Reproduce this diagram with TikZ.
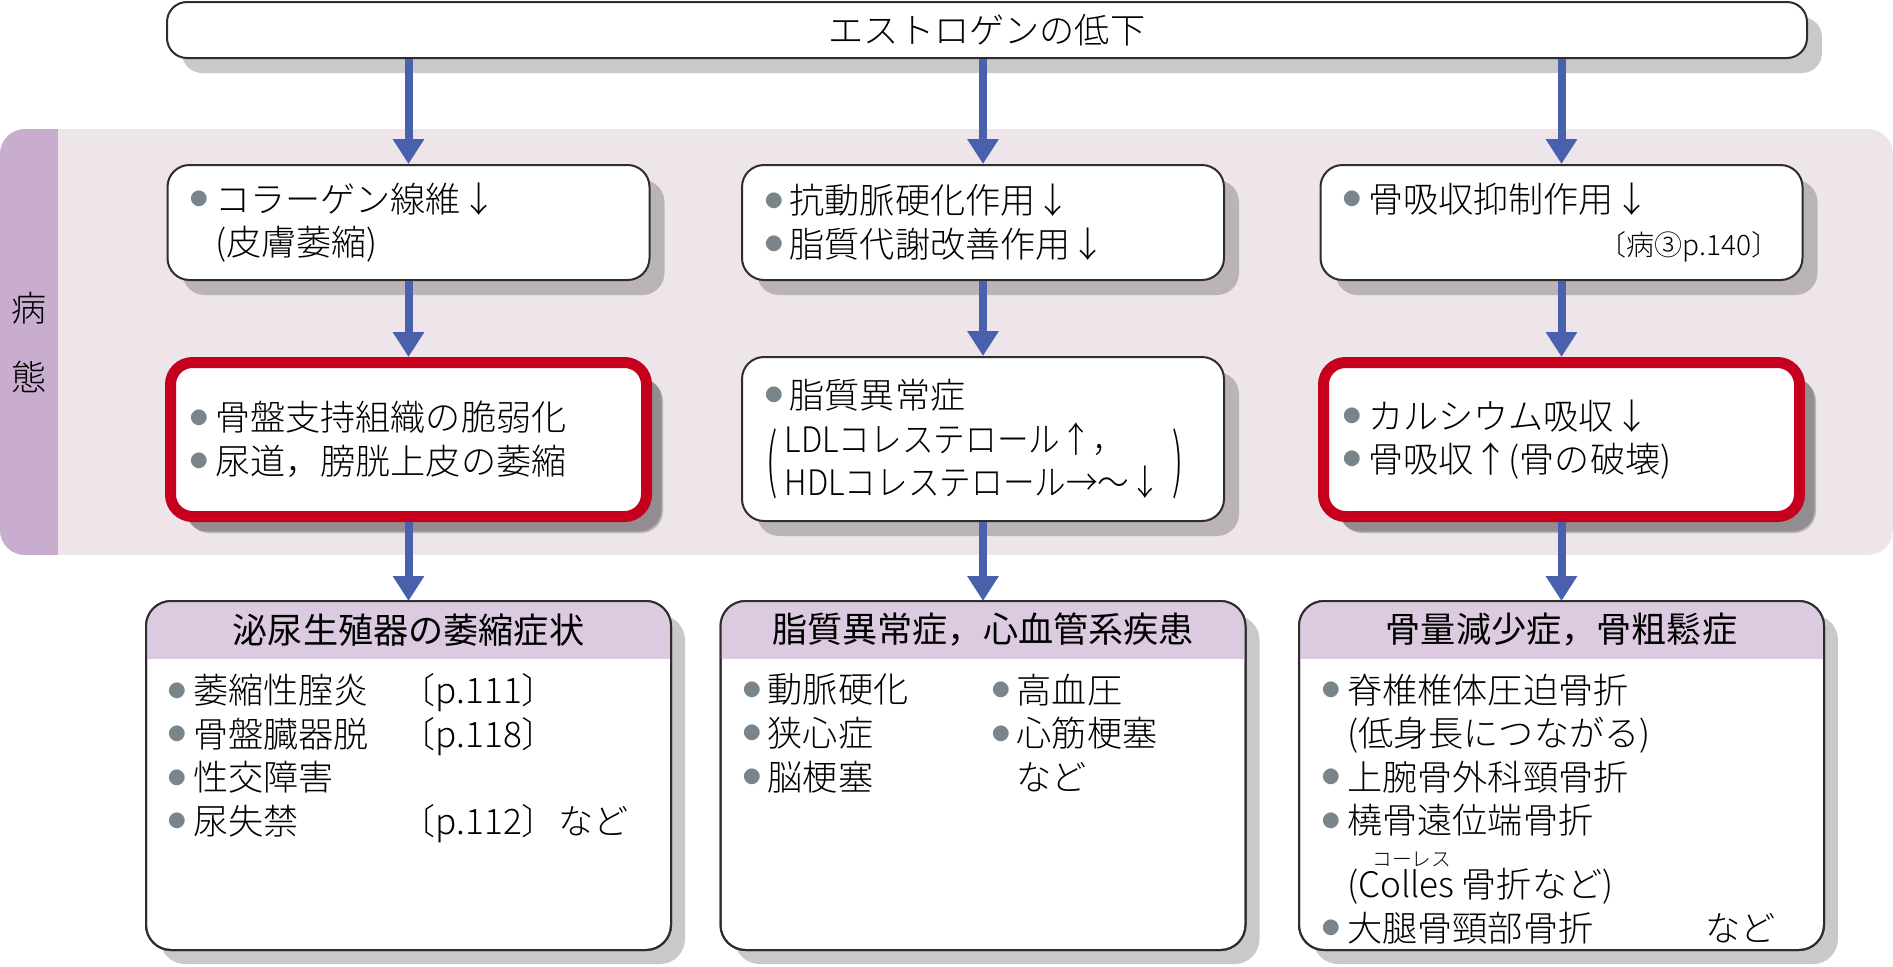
\documentclass[tikz,border=0pt]{standalone}
\usepackage{fontspec}
\setmainfont{Noto Sans CJK JP}[UprightFont = * Light]
\newfontfamily\headfont{Noto Sans CJK JP}
\usetikzlibrary{arrows.meta,shadows}
\definecolor{bandpink}{RGB}{237,229,233}
\definecolor{stripmauve}{RGB}{201,173,206}
\definecolor{arrowblue}{RGB}{73,97,172}
\definecolor{alertred}{RGB}{198,0,28}
\definecolor{headmauve}{RGB}{220,203,224}
\definecolor{bulgray}{RGB}{122,133,139}
\definecolor{boxline}{RGB}{45,45,45}
\newcommand\bul{\makebox[0.7em][l]{\color{bulgray}\raisebox{0.19em}{\scalebox{0.5}{●}}}}
\newcommand\nobul{\hspace*{0.7em}}
\tikzset{
    > = {Triangle[width=0.3cm, length=0.25cm]},
    every node/.style = {font=\fontsize{10pt}{12.4pt}\selectfont, text=black},
    flow/.style = {->, draw=arrowblue, line width=0.08cm},
    boxshadow/.style = {general shadow={fill=black, opacity=0.21, shadow xshift=#1, shadow yshift=-#1}},
    topbox/.style = {draw=boxline, line width=0.02cm, fill=white, rounded corners=0.2cm,
        minimum width=16.4cm, minimum height=0.56cm, boxshadow=0.15cm},
    box/.style = {draw=boxline, line width=0.02cm, fill=white, rounded corners=0.22cm,
        minimum width=4.82cm, minimum height=1.15cm, text width=4.36cm,
        inner xsep=0pt, align=left, boxshadow=0.15cm},
    alertbox/.style = {box, draw=alertred, line width=0.11cm,
        minimum width=4.76cm, minimum height=1.54cm, boxshadow=0.165cm},
    panel/.style = {draw=boxline, line width=0.02cm, fill=white, rounded corners=0.25cm,
        minimum width=5.25cm, minimum height=3.49cm, outer sep=0pt, boxshadow=0.14cm},
    headtext/.style = {font=\fontsize{10pt}{12.4pt}\headfont},
    listtext/.style = {anchor=north west, inner sep=0pt, align=left}
}

\begin{document}
\begin{tikzpicture}[x=1cm, y=-1cm]
    \useasboundingbox (0,0) rectangle (18.93,9.66);

    % band behind the upper rows
    \begin{scope}
        \clip[rounded corners=0.25cm] (0,1.29) rectangle (18.93,5.55);
        \fill[bandpink] (0,1.29) rectangle (18.93,5.55);
        \fill[stripmauve] (0,1.29) rectangle (0.58,5.55);
    \end{scope}
    \node[align=center, font=\fontsize{10pt}{19.6pt}\selectfont] (byotai) at (0.29, 3.425) {病\\態};

    \node[topbox] (top) at (9.87, 0.30) {エストロゲンの低下};

    \node[box] (r1a) at (4.085, 2.225) {\bul コラーゲン線維↓\\ \nobul (皮膚萎縮)};
    \node[box] (r1b) at (9.83, 2.225) {\bul 抗動脈硬化作用↓\\ \bul 脂質代謝改善作用↓};
    \node[box] (r1c) at (15.615, 2.225) {\bul 骨吸収抑制作用↓\\
        \hfill{\fontsize{8pt}{10pt}\selectfont 〔病③p.140〕}};

    \node[alertbox] (r2a) at (4.085, 4.395) {\bul 骨盤支持組織の脆弱化\\ \bul 尿道，膀胱上皮の萎縮};
    \node[box, minimum height=1.64cm] (r2b) at (9.83, 4.39) {\bul 脂質異常症\\
        \hspace*{0.56em}\scalebox{0.9}[1]{LDLコレステロール↑，}\\
        \hspace*{0.56em}\scalebox{0.9}[1]{HDLコレステロール→〜↓}};
    \node[inner sep=0pt] (lpar) at (7.72, 4.64) {\scalebox{1}[2]{(}};
    \node[inner sep=0pt] (rpar) at (11.78, 4.64) {\scalebox{1}[2]{)}};
    \node[alertbox] (r2c) at (15.615, 4.395) {\bul カルシウム吸収↓\\ \bul 骨吸収↑(骨の破壊)};

    % lower panels
    \node[panel] (r3a) at (4.085, 7.755) {};
    \node[panel] (r3b) at (9.83, 7.755) {};
    \node[panel] (r3c) at (15.615, 7.755) {};

    \begin{scope}
        \clip[rounded corners=0.25cm] (r3a.north west) rectangle (r3a.south east);
        \fill[headmauve] (r3a.north west) rectangle ([yshift=-0.58cm]r3a.north east);
    \end{scope}
    \begin{scope}
        \clip[rounded corners=0.25cm] (r3b.north west) rectangle (r3b.south east);
        \fill[headmauve] (r3b.north west) rectangle ([yshift=-0.58cm]r3b.north east);
    \end{scope}
    \begin{scope}
        \clip[rounded corners=0.25cm] (r3c.north west) rectangle (r3c.south east);
        \fill[headmauve] (r3c.north west) rectangle ([yshift=-0.58cm]r3c.north east);
    \end{scope}
    \draw[boxline, line width=0.02cm, rounded corners=0.25cm] (r3a.north west) rectangle (r3a.south east);
    \draw[boxline, line width=0.02cm, rounded corners=0.25cm] (r3b.north west) rectangle (r3b.south east);
    \draw[boxline, line width=0.02cm, rounded corners=0.25cm] (r3c.north west) rectangle (r3c.south east);

    \node[headtext] (h3a) at ([yshift=-0.29cm]r3a.north) {泌尿生殖器の萎縮症状};
    \node[headtext] (h3b) at ([yshift=-0.29cm]r3b.north) {脂質異常症，心血管系疾患};
    \node[headtext] (h3c) at ([yshift=-0.29cm]r3c.north) {骨量減少症，骨粗鬆症};

    \node[listtext] (l3a) at ([xshift=0.22cm, yshift=-0.72cm]r3a.north west) {
        \bul\makebox[5.9em][l]{萎縮性腟炎}〔p.111〕\\
        \bul\makebox[5.9em][l]{骨盤臓器脱}〔p.118〕\\
        \bul 性交障害\\
        \bul\makebox[5.9em][l]{尿失禁}\makebox[4.5em][l]{〔p.112〕}など};
    \node[listtext] (l3b) at ([xshift=0.22cm, yshift=-0.72cm]r3b.north west) {
        \bul 動脈硬化\\ \bul 狭心症\\ \bul 脳梗塞};
    \node[listtext] (m3b) at ([xshift=2.71cm, yshift=-0.72cm]r3b.north west) {
        \bul 高血圧\\ \bul 心筋梗塞\\ \nobul など};
    \node[listtext] (l3c) at ([xshift=0.23cm, yshift=-0.72cm]r3c.north west) {
        \bul 脊椎椎体圧迫骨折\\
        \nobul (低身長につながる)\\
        \bul 上腕骨外科頸骨折\\
        \bul 橈骨遠位端骨折\\[0.12cm]
        \nobul (\rlap{\hspace{4pt}\raisebox{8.9pt}{\fontsize{5.6pt}{6pt}\selectfont コーレス}}Colles\hspace{0.2em}骨折など)\\
        \bul\makebox[10.2em][l]{大腿骨頸部骨折}など};

    % arrows
    \coordinate (t1) at (top.south -| r1a.north);
    \coordinate (t2) at (top.south -| r1b.north);
    \coordinate (t3) at (top.south -| r1c.north);
    \draw[flow] (t1) -- (r1a.north);
    \draw[flow] (t2) -- (r1b.north);
    \draw[flow] (t3) -- (r1c.north);
    \draw[flow] (r1a.south) -- (r2a.north);
    \draw[flow] (r1b.south) -- (r2b.north);
    \draw[flow] (r1c.south) -- (r2c.north);
    \draw[flow] (r2a.south) -- (r3a.north);
    \draw[flow] (r2b.south) -- (r3b.north);
    \draw[flow] (r2c.south) -- (r3c.north);
\end{tikzpicture}
\end{document}
